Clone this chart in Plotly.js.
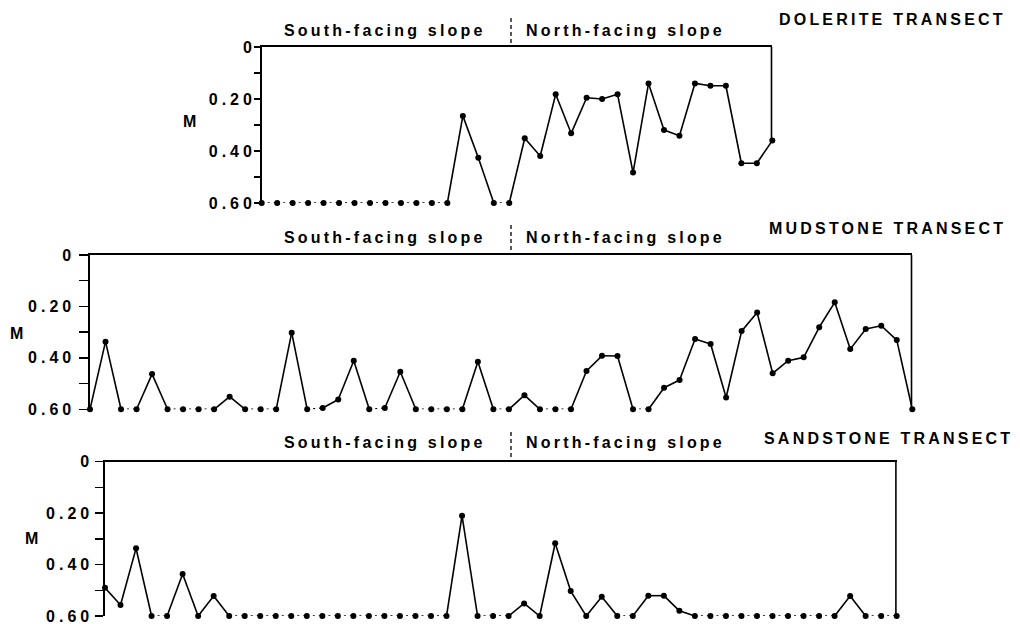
<!DOCTYPE html>
<html>
<head>
<meta charset="utf-8">
<script src="https://cdn.plot.ly/plotly-3.0.1.min.js"></script>
<style>
html,body{margin:0;padding:0;background:#fff;}
.annotation-text{letter-spacing:3.2px;}
.ytick text,.y2tick text,.y3tick text{letter-spacing:4px;}
</style>
</head>
<body>
<div id="chart" style="width:1020px;height:624px;"></div>
<script>
// ---- Data (soil depth, m; 0.60 = maximum recorded depth) ----
const transectNames = ['DOLERITE TRANSECT', 'MUDSTONE TRANSECT', 'SANDSTONE TRANSECT'];
const slopeLabels = ['South-facing slope', 'North-facing slope'];
const tickValues = [0, 0.1, 0.2, 0.3, 0.4, 0.5, 0.6];
const tickLabels = ['0', '', '0.20', '', '0.40', '', '0.60'];
const axisLabel = 'M';

const dolerite = [0.6, 0.6, 0.6, 0.6, 0.6, 0.6, 0.6, 0.6, 0.6, 0.6, 0.6, 0.6, 0.6,
  0.265, 0.426, 0.6, 0.6, 0.351, 0.419, 0.182, 0.332, 0.195, 0.2, 0.182, 0.483,
  0.14, 0.319, 0.341, 0.14, 0.149, 0.149, 0.447, 0.447, 0.36];

const mudstone = [0.6, 0.337, 0.6, 0.6, 0.463, 0.6, 0.6, 0.6, 0.6, 0.551, 0.6, 0.6,
  0.6, 0.302, 0.6, 0.595, 0.562, 0.411, 0.6, 0.595, 0.454, 0.6, 0.6, 0.6, 0.6,
  0.415, 0.6, 0.6, 0.545, 0.6, 0.6, 0.6, 0.451, 0.392, 0.393, 0.6, 0.6, 0.516,
  0.486, 0.327, 0.346, 0.554, 0.296, 0.224, 0.46, 0.411, 0.398, 0.281, 0.184,
  0.366, 0.288, 0.275, 0.331, 0.6];

const sandstone = [0.49, 0.557, 0.337, 0.6, 0.6, 0.437, 0.6, 0.522, 0.6, 0.6, 0.6,
  0.6, 0.6, 0.6, 0.6, 0.6, 0.6, 0.6, 0.6, 0.6, 0.6, 0.6, 0.6, 0.21, 0.6, 0.6, 0.6,
  0.551, 0.6, 0.317, 0.503, 0.6, 0.525, 0.6, 0.6, 0.521, 0.521, 0.58, 0.6, 0.6,
  0.6, 0.6, 0.6, 0.6, 0.6, 0.6, 0.6, 0.6, 0.522, 0.6, 0.6, 0.6];

const series = [dolerite, mudstone, sandstone];

// ---- Layout geometry (pixels) ----
const W = 1020, H = 624;
const geom = [
  {x0: 261.7, x1: 772.3, y0: 47,    y1: 203,   tX: 1008, tY: 19,    lY: 30,  mX: 191, mY: 122, dTop: 18,  tl: 6, so: -5},
  {x0: 90,    x1: 912.3, y0: 255,   y1: 409.3, tX: 1008, tY: 228.5, lY: 237, mX: 18,  mY: 333, dTop: 225, tl: 9, so: 1},
  {x0: 105,   x1: 896.7, y0: 461.7, y1: 616,   tX: 1015, tY: 438.5, lY: 442, mX: 33,  mY: 538, dTop: 432, tl: 8, so: -1}
];
const southX = 385, northX = 625.5, dividerX = 511;
const FLOOR = 0.585;
const FONT = 'Liberation Sans, Arial, sans-serif';
const INK = '#000';

const px = v => v / W;
const py = v => 1 - v / H;

const traces = [];
const layout = {
  width: W, height: H,
  margin: {l: 0, r: 0, t: 0, b: 0},
  paper_bgcolor: '#fff', plot_bgcolor: '#fff',
  showlegend: false,
  font: {family: FONT, color: INK, size: 16, weight: 'bold'},
  annotations: [],
  shapes: []
};

series.forEach((vals, p) => {
  const g = geom[p];
  const xs = vals.map((_, i) => i);
  const n = vals.length;
  const xa = p === 0 ? 'x' : 'x' + (p + 1);
  const ya = p === 0 ? 'y' : 'y' + (p + 1);
  const xKey = p === 0 ? 'xaxis' : 'xaxis' + (p + 1);
  const yKey = p === 0 ? 'yaxis' : 'yaxis' + (p + 1);

  // split segments: dotted between two floor points, solid otherwise
  const sx = [], sy = [], dx = [], dy = [];
  for (let i = 0; i < n - 1; i++) {
    const dotted = vals[i] >= FLOOR && vals[i + 1] >= FLOOR;
    const tx = dotted ? dx : sx, ty = dotted ? dy : sy;
    tx.push(xs[i], xs[i + 1], null);
    ty.push(vals[i], vals[i + 1], null);
  }
  traces.push({x: sx, y: sy, xaxis: xa, yaxis: ya, mode: 'lines', type: 'scatter',
    line: {color: INK, width: 1.6}, cliponaxis: false, hoverinfo: 'skip'});
  traces.push({x: dx, y: dy, xaxis: xa, yaxis: ya, mode: 'lines', type: 'scatter',
    line: {color: INK, width: 1.4, dash: '2px,4px'}, cliponaxis: false, hoverinfo: 'skip'});
  // right-hand frame edge down to the last point (half is clipped at the plot edge)
  traces.push({x: [xs[n - 1], xs[n - 1]], y: [0, vals[n - 1]], xaxis: xa, yaxis: ya,
    mode: 'lines', type: 'scatter', line: {color: INK, width: 3.2}, cliponaxis: false, hoverinfo: 'skip'});
  traces.push({x: xs, y: vals, xaxis: xa, yaxis: ya, mode: 'markers', type: 'scatter',
    marker: {color: INK, size: 6}, cliponaxis: false});

  layout[xKey] = {
    domain: [px(g.x0), px(g.x1)], anchor: ya, side: 'top',
    range: [0, n - 1], showline: true, linecolor: INK, linewidth: 1.6,
    ticks: '', showticklabels: false, showgrid: false, zeroline: false, fixedrange: true
  };
  layout[yKey] = {
    domain: [py(g.y1), py(g.y0)], anchor: xa,
    range: [0.6, 0], showline: true, linecolor: INK, linewidth: 1.6,
    tickvals: tickValues, ticktext: tickLabels, ticks: 'outside', ticklen: g.tl,
    tickwidth: 1.4, tickcolor: INK, ticklabelstandoff: g.so, ticklabeloverflow: 'allow',
    tickfont: {family: FONT, size: 16, color: INK, weight: 'bold'},
    showgrid: false, zeroline: false, fixedrange: true
  };

  const ann = (text, x, y, xanchor) => layout.annotations.push({
    text, xref: 'paper', yref: 'paper', x: px(x), y: py(y),
    xanchor, yanchor: 'middle', showarrow: false,
    font: {family: FONT, size: 16, color: INK, weight: 'bold'}
  });
  ann(transectNames[p], g.tX, g.tY, 'right');
  ann(slopeLabels[0], southX, g.lY, 'center');
  ann(slopeLabels[1], northX, g.lY, 'center');
  ann(axisLabel, g.mX, g.mY, 'center');

  layout.shapes.push({type: 'line', xref: 'paper', yref: 'paper',
    x0: px(dividerX), x1: px(dividerX), y0: py(g.dTop), y1: py(g.y0),
    line: {color: INK, width: 1.3, dash: '4px,3px'}});
});

Plotly.newPlot('chart', traces, layout, {displayModeBar: false, staticPlot: true});
</script>
</body>
</html>
